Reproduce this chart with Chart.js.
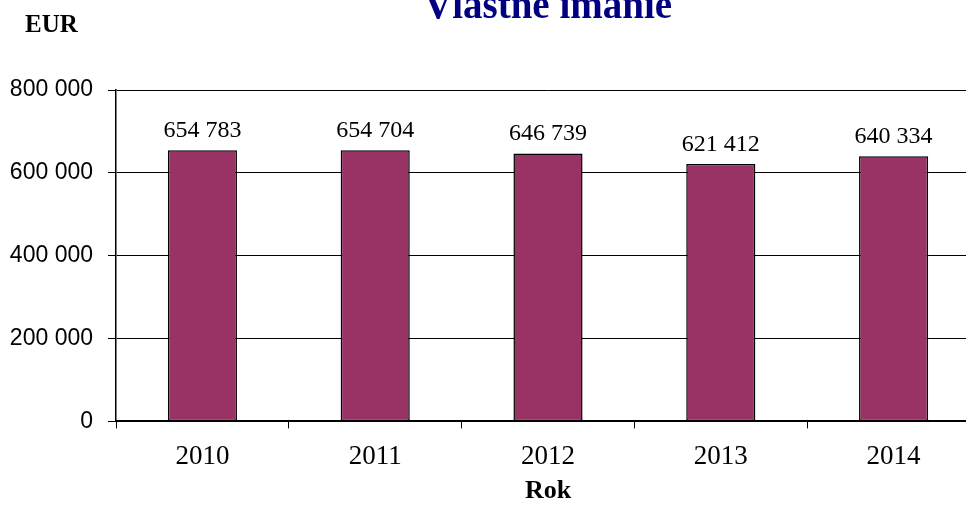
<!DOCTYPE html>
<html>
<head>
<meta charset="utf-8">
<script src="https://cdn.jsdelivr.net/npm/chart.js@4/dist/chart.umd.min.js"></script>
<style>
    html, body { margin: 0; padding: 0; background: #fff; overflow: hidden; }
    #wrap { position: absolute; left: 0; top: -12px; }
</style>
</head>
<body>
<div id="wrap">
    <canvas id="equityChart" width="1096" height="530"></canvas>
</div>
<script>
// Chart data
var years = ['2010', '2011', '2012', '2013', '2014'];
var equity = [654783, 654704, 646739, 621412, 640334];
var yTicks = [0, 200000, 400000, 600000, 800000];

var titleText = 'Vlastné imanie';
var yAxisTitle = 'EUR';
var xAxisTitle = 'Rok';

// "654783" -> "654 783"
function spaced(n) {
    return String(n).replace(/\B(?=(\d{3})+(?!\d))/g, ' ');
}

// Value labels above the bars + horizontal EUR label top left
var extraText = {
    id: 'extraText',
    afterDatasetsDraw: function(chart) {
        var ctx = chart.ctx;
        var meta = chart.getDatasetMeta(0);
        ctx.save();
        ctx.fillStyle = '#000';
        ctx.font = '24px "Liberation Serif", "Times New Roman", serif';
        ctx.textAlign = 'center';
        ctx.textBaseline = 'alphabetic';
        meta.data.forEach(function(bar, i) {
            ctx.fillText(spaced(equity[i]), bar.x, bar.y - 13);
        });
        ctx.font = 'bold 25px "Liberation Serif", "Times New Roman", serif';
        ctx.textAlign = 'left';
        ctx.fillText(yAxisTitle, 25, 44);
        ctx.restore();
    }
};

window.onload = function() {
    var ctx = document.getElementById('equityChart').getContext('2d');
    new Chart(ctx, {
        type: 'bar',
        data: {
            labels: years,
            datasets: [{
                data: equity,
                backgroundColor: '#993366',
                borderColor: '#000',
                borderWidth: 1.5,
                borderSkipped: false,
                barPercentage: 0.4,
                categoryPercentage: 1
            }]
        },
        options: {
            responsive: false,
            animation: false,
            devicePixelRatio: 1,
            layout: { padding: 0 },
            plugins: {
                legend: { display: false },
                tooltip: { enabled: false },
                title: {
                    display: true,
                    text: titleText,
                    color: '#000080',
                    font: { family: '"Liberation Serif", "Times New Roman", serif', size: 39, weight: 'bold', lineHeight: 1 },
                    padding: { top: 0, bottom: 63 }
                }
            },
            scales: {
                x: {
                    grid: {
                        display: true,
                        drawOnChartArea: false,
                        drawTicks: true,
                        tickLength: 7,
                        color: '#000',
                        lineWidth: 1
                    },
                    border: { display: true, color: '#000', width: 2 },
                    ticks: {
                        color: '#000',
                        padding: 12,
                        font: { family: '"Liberation Serif", "Times New Roman", serif', size: 27 }
                    },
                    title: {
                        display: true,
                        text: xAxisTitle,
                        color: '#000',
                        font: { family: '"Liberation Serif", "Times New Roman", serif', size: 26, weight: 'bold' },
                        padding: { top: -9, bottom: 11 }
                    }
                },
                y: {
                    min: 0,
                    max: 800000,
                    afterFit: function(scale) { scale.width = 116; },
                    afterBuildTicks: function(scale) {
                        scale.ticks = yTicks.map(function(v) { return { value: v }; });
                    },
                    grid: {
                        color: '#000',
                        lineWidth: 1,
                        drawTicks: true,
                        tickLength: 8
                    },
                    border: { display: true, color: '#000', width: 1.5 },
                    ticks: {
                        color: '#000',
                        padding: 15,
                        font: { family: '"Liberation Sans", Arial, sans-serif', size: 23 },
                        callback: function(v) { return spaced(v); }
                    }
                },
                // empty right-hand axis: keeps the plot area as wide as in the original
                spacer: {
                    type: 'linear',
                    position: 'right',
                    afterFit: function(scale) { scale.width = 116; },
                    grid: { display: false },
                    border: { display: false },
                    ticks: { display: false }
                }
            }
        },
        plugins: [extraText]
    });
};
</script>
</body>
</html>
